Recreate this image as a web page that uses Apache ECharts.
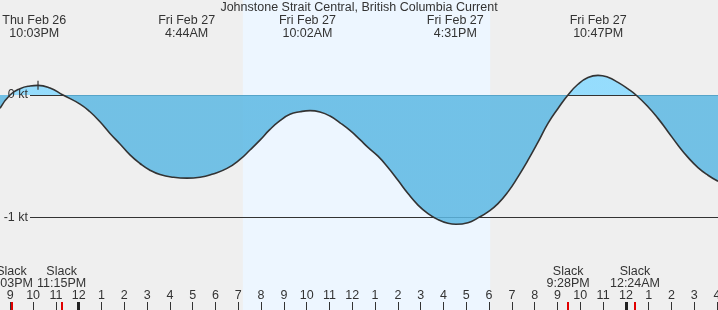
<!DOCTYPE html>
<html><head><meta charset="utf-8">
<script src="https://cdn.jsdelivr.net/npm/echarts@6/dist/echarts.min.js"></script>
<style>html,body{margin:0;padding:0;background:#efefef}#c{width:718px;height:310px}</style>
</head><body><div id="c"></div><script>
const titleText = 'Johnstone Strait Central, British Columbia Current';
// time = hours since Thu Feb 26 00:00
const hours = [20.548, 20.987, 21.425, 21.864, 22.215, 22.741, 23.311, 24.057, 24.495, 24.934, 25.373, 25.811,
  26.250, 26.688, 27.127, 27.566, 28.136, 28.750, 29.320, 29.890, 30.504, 31.074, 31.513, 31.951, 32.390,
  32.829, 33.267, 33.706, 34.145, 34.583, 35.022, 35.460, 35.899, 36.338, 36.688, 37.127, 37.566, 38.004,
  38.443, 38.882, 39.320, 39.759, 40.197, 40.548, 41.074, 41.513, 41.951, 42.390, 42.829, 43.267, 43.706,
  44.145, 44.583, 45.022, 45.460, 45.899, 46.338, 46.776, 47.215, 47.654, 48.092, 48.443, 48.969, 49.408,
  49.846, 50.285, 50.724, 51.162, 51.601, 52.039];
const knots = [-0.109, 0, 0.052, 0.074, 0.079, 0.057, 0, -0.074, -0.137, -0.219, -0.314, -0.40,
  -0.49, -0.56, -0.615, -0.65, -0.672, -0.68, -0.672, -0.645, -0.60, -0.527, -0.45, -0.369, -0.281,
  -0.21, -0.158, -0.137, -0.128, -0.139, -0.172, -0.227, -0.29, -0.365, -0.428, -0.50, -0.592, -0.697,
  -0.806, -0.90, -0.97, -1.019, -1.049, -1.057, -1.044, -1.005, -0.956, -0.888, -0.792, -0.669, -0.533,
  -0.386, -0.232, -0.11, 0, 0.088, 0.143, 0.161, 0.145, 0.103, 0.05, 0, -0.096, -0.191,
  -0.30, -0.41, -0.51, -0.593, -0.656, -0.705];
const markIndex = 4; // the small "+" marker on the first flood peak
const extremeHours = [22.05, 28.733, 34.033, 40.517, 46.783];
const extremeDays = ['Thu Feb 26', 'Fri Feb 27', 'Fri Feb 27', 'Fri Feb 27', 'Fri Feb 27'];
const extremeTimes = ['10:03PM', '4:44AM', '10:02AM', '4:31PM', '10:47PM'];
const slackHours = [21.05, 23.25, 45.467, 48.4];
const slackTimes = ['9:03PM', '11:15PM', '9:28PM', '12:24AM'];
const hourTicks = [21, 22, 23, 24, 25, 26, 27, 28, 29, 30, 31, 32, 33, 34, 35, 36, 37, 38, 39, 40,
  41, 42, 43, 44, 45, 46, 47, 48, 49, 50, 51, 52];
const midnightTicks = [24, 48];
const yTicks = [0, -1];
const daylight = [31.2, 42.05];
const xRange = [20.548, 52.04];
const yRange = [-1.758, 0.777];

const FONT = 'Liberation Sans';
const FS = 12.5;
const TXT = '#333';
const idxOf = (arr, v) => arr.findIndex(a => Math.abs(a - v) < 1e-6);
const curve = hours.map((h, i) => [h, knots[i]]);

const chart = echarts.init(document.getElementById('c'), null, {renderer: 'canvas'});
const baseX = {type: 'value', gridIndex: 0, min: xRange[0], max: xRange[1], splitLine: {show: false},
  axisLine: {show: false, onZero: false}};
chart.setOption({
  animation: false,
  backgroundColor: '#efefef',
  textStyle: {fontFamily: FONT},
  title: {text: titleText, left: 'center', top: 0, padding: [1, 0, 0, 0],
    textStyle: {fontFamily: FONT, fontSize: FS, fontWeight: 'normal', color: TXT}},
  grid: [
    {left: 0, right: 0, top: 0, bottom: 0, outerBoundsMode: 'none', containLabel: false},
    {left: 30, right: 0, top: 0, bottom: 0, outerBoundsMode: 'none', containLabel: false}
  ],
  xAxis: [
    Object.assign({}, baseX, {position: 'bottom',
      axisTick: {show: true, inside: true, length: 8, customValues: hourTicks, lineStyle: {color: TXT, width: 1}},
      axisLabel: {show: true, inside: true, margin: 8, customValues: hourTicks, color: TXT, fontSize: FS, fontFamily: FONT,
        formatter: v => String(((Math.round(v) % 12) + 12) % 12 || 12)}}),
    Object.assign({}, baseX, {position: 'bottom',
      axisTick: {show: true, inside: true, length: 8, customValues: midnightTicks, lineStyle: {color: '#222', width: 3}},
      axisLabel: {show: false}}),
    Object.assign({}, baseX, {position: 'bottom',
      axisTick: {show: true, inside: true, length: 8, customValues: slackHours, lineStyle: {color: '#e00000', width: 2}},
      axisLabel: {show: true, inside: true, margin: 20, customValues: slackHours, color: TXT, fontSize: FS, fontFamily: FONT, lineHeight: 12,
        formatter: v => 'Slack\n' + slackTimes[idxOf(slackHours, v)]}}),
    Object.assign({}, baseX, {position: 'top',
      axisTick: {show: false},
      axisLabel: {show: true, inside: true, margin: 14.5, customValues: extremeHours, color: TXT, fontSize: FS, fontFamily: FONT, lineHeight: 12.5,
        formatter: v => { const i = idxOf(extremeHours, v); return extremeDays[i] + '\n' + extremeTimes[i]; }}}),
    {type: 'value', gridIndex: 1, min: 0, max: 1, show: false, axisLine: {onZero: false}}
  ],
  yAxis: [
    {type: 'value', gridIndex: 0, min: yRange[0], max: yRange[1], show: false, axisLine: {onZero: false}},
    {type: 'value', gridIndex: 1, min: yRange[0], max: yRange[1], z: 10, splitLine: {show: false}, axisLine: {show: false, onZero: false}, axisTick: {show: false},
      axisLabel: {show: true, margin: 2, customValues: yTicks, color: TXT, fontSize: FS, fontFamily: FONT, formatter: v => v + ' kt'}}
  ],
  visualMap: {show: false, type: 'piecewise', seriesIndex: 2, dimension: 1,
    pieces: [{gte: -5, lt: 0, color: '#5cb8e3'}, {gte: 0, lte: 5, color: '#86d9ff'}]},
  series: [
    {type: 'line', xAxisIndex: 0, yAxisIndex: 0, data: [], z: 0, silent: true,
      markArea: {z: 0, silent: true, itemStyle: {color: '#edf6ff'}, data: [[{xAxis: daylight[0]}, {xAxis: daylight[1]}]]}},
    {type: 'line', xAxisIndex: 4, yAxisIndex: 1, data: [], z: 1, silent: true,
      markLine: {z: 1, silent: true, symbol: 'none', label: {show: false}, lineStyle: {color: TXT, width: 1, type: 'solid'},
        data: yTicks.map(v => ({yAxis: v}))}},
    {type: 'line', xAxisIndex: 0, yAxisIndex: 0, z: 2, smooth: 0.5, symbol: 'none', silent: true,
      lineStyle: {width: 0}, areaStyle: {opacity: 0.85, origin: 0},
      data: curve},
    {type: 'line', xAxisIndex: 0, yAxisIndex: 0, z: 3, smooth: 0.5, symbol: 'none', silent: true,
      lineStyle: {width: 1.6, color: '#333'},
      data: curve,
      markPoint: {z: 4, silent: true, symbol: 'rect', symbolSize: [1.2, 9], itemStyle: {color: '#333'}, label: {show: false},
        data: [{coord: curve[markIndex]}]}}
  ]
});
</script></body></html>
